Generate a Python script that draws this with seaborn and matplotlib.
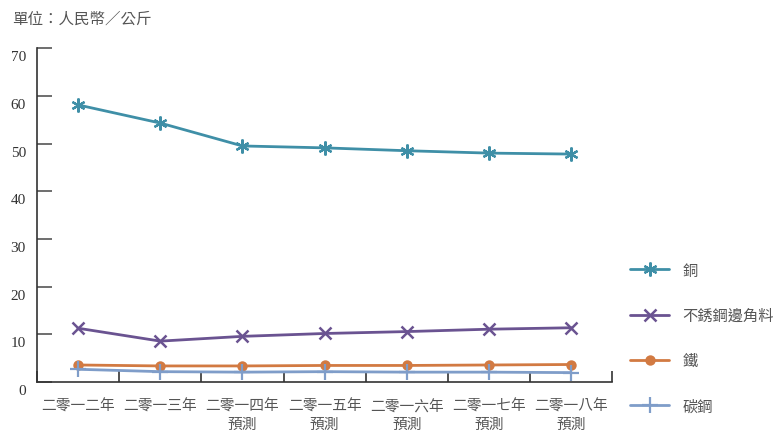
import matplotlib
matplotlib.use('Agg')
import matplotlib.pyplot as plt
import matplotlib.transforms as mtransforms
from matplotlib.lines import Line2D
import pandas as pd
import seaborn as sns

# data (RMB / kg)
years = ['二零一二年', '二零一三年', '二零一四年\n預測', '二零一五年\n預測',
         '二零一六年\n預測', '二零一七年\n預測', '二零一八年\n預測']
copper = [58.1, 54.3, 49.5, 49.1, 48.5, 48.0, 47.8]
stainless_scrap = [11.3, 8.6, 9.6, 10.2, 10.6, 11.1, 11.4]
iron = [3.6, 3.4, 3.4, 3.5, 3.5, 3.6, 3.7]
carbon_steel = [2.7, 2.2, 2.1, 2.2, 2.1, 2.1, 2.0]

series_names = ['銅', '不銹鋼邊角料', '鐵', '碳鋼']
series_values = [copper, stainless_scrap, iron, carbon_steel]
colors = ['#3f8fa7', '#6a5391', '#d27a42', '#7f9dc9']
markers = [(6, 2, 0), 'x', 'o', '+']
msizes = [10, 8, 7.5, 12]
medges = [1.6, 1.8, 0, 1.6]

sns.set_style('white')
plt.rcParams['font.family'] = ['Noto Sans CJK TC', 'DejaVu Sans']

fig = plt.figure(figsize=(7.79, 4.31), dpi=100)
ax = fig.add_axes([0.0475, 0.111, 0.7385, 0.775])

for name, vals, c, m, ms, mew in zip(series_names, series_values, colors,
                                     markers, msizes, medges):
    df = pd.DataFrame({'year': years, 'value': vals})
    sns.lineplot(data=df, x='year', y='value', ax=ax, color=c, marker=m,
                 markersize=ms, markeredgecolor=c, markeredgewidth=mew,
                 linewidth=2, sort=False, zorder=3)

ax.set_xlim(-0.5, len(years) - 0.5)
ax.set_ylim(0, 70)
ax.set_yticks(range(0, 71, 10))
ax.set_xlabel('')
ax.set_ylabel('')

for side in ['top', 'right']:
    ax.spines[side].set_visible(False)
for side in ['left', 'bottom']:
    ax.spines[side].set_color('#333333')
    ax.spines[side].set_linewidth(1.2)

# y ticks: long inward ticks, serif labels a bit below
ax.tick_params(axis='y', left=True, direction='in', length=11, width=1.2,
               color='#555555', pad=8, labelsize=11, labelcolor='#333333')
offset = mtransforms.ScaledTranslation(0, -7 / 100, fig.dpi_scale_trans)
for lbl in ax.get_yticklabels():
    lbl.set_fontfamily(['Liberation Serif', 'DejaVu Serif'])
    lbl.set_transform(lbl.get_transform() + offset)

# x ticks: labels at centres, tick marks at category boundaries
ax.set_xticks(range(len(years)))
ax.set_xticklabels(years)
ax.tick_params(axis='x', which='major', bottom=True, length=0, pad=12,
               labelsize=10.6, labelcolor='#555555')
ax.set_xticks([i - 0.5 for i in range(len(years) + 1)], minor=True)
ax.tick_params(axis='x', which='minor', bottom=True, direction='in', length=8,
               width=1.2, color='#333333')
for lbl in ax.get_xticklabels():
    lbl.set_linespacing(1.35)

fig.text(0.015, 0.955, '單位：人民幣／公斤', fontsize=11.2, color='#555555',
         va='center', ha='left')

handles = [Line2D([], [], color=c, marker=m, markersize=ms, markeredgecolor=c,
                  markeredgewidth=mew, linewidth=2)
           for c, m, ms, mew in zip(colors, markers, msizes, medges)]
leg = fig.legend(handles, series_names, loc='upper left',
                 bbox_to_anchor=(0.799, 0.408), frameon=False, fontsize=11,
                 labelspacing=1.85, handlelength=2.55, handletextpad=0.9,
                 borderpad=0)
for t in leg.get_texts():
    t.set_color('#555555')

fig.savefig('out.png', dpi=100)
